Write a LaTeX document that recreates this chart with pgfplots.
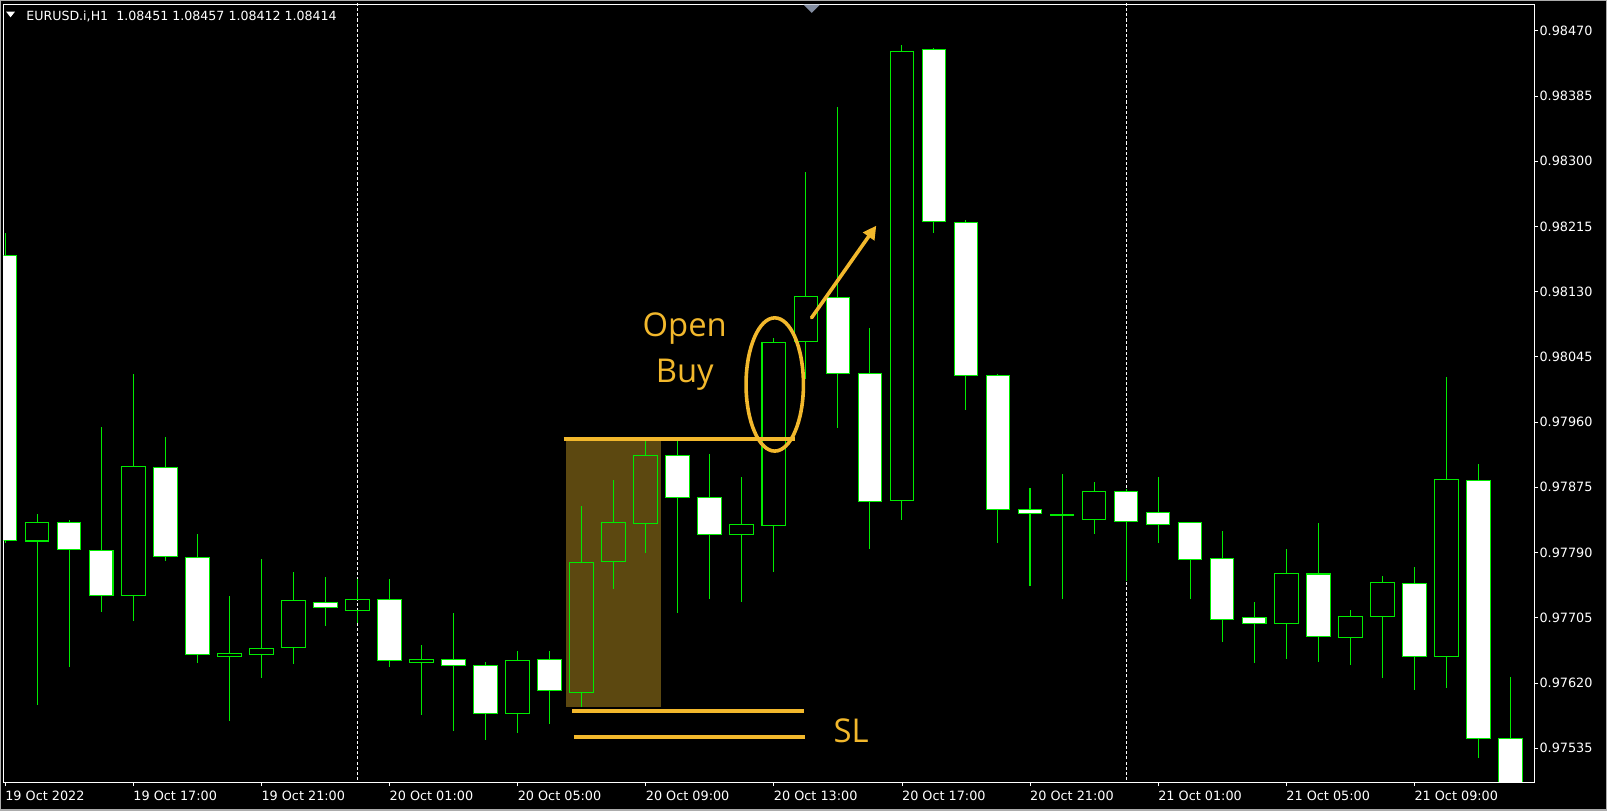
\documentclass[border=0pt]{standalone}
\usepackage{pgfplots}
\pgfplotsset{compat=1.18}
\usepackage{pgfplotstable}
\usepackage{fontspec}
\setmainfont{DejaVu Sans}
\newfontfamily\annfont{Open Sans}
\usetikzlibrary{arrows.meta}
\definecolor{cgreen}{RGB}{0,235,0}
\definecolor{gold}{RGB}{242,184,44}
\definecolor{shadec}{RGB}{92,72,16}
\definecolor{trig}{RGB}{130,140,160}

% k = hour index (0 = 19 Oct 13:00)
\pgfplotstableread{
k O H L C
1 0.97805 0.97840 0.97591 0.97829
4 0.97734 0.98023 0.97701 0.97902
7 0.97655 0.97733 0.97570 0.97658
8 0.97657 0.97782 0.97626 0.97665
9 0.97666 0.97765 0.97645 0.97727
11 0.97715 0.97755 0.97698 0.97729
13 0.97647 0.97669 0.97578 0.97651
16 0.97580 0.97661 0.97555 0.97649
18 0.97608 0.97850 0.97588 0.97777
19 0.97778 0.97885 0.97742 0.97829
20 0.97828 0.97938 0.97789 0.97916
23 0.97813 0.97888 0.97726 0.97826
24 0.97825 0.98069 0.97765 0.98064
25 0.98065 0.98286 0.98016 0.98123
28 0.97858 0.98451 0.97832 0.98443
33 0.97838 0.97892 0.97729 0.97840
34 0.97833 0.97882 0.97814 0.97870
40 0.97698 0.97795 0.97651 0.97762
42 0.97679 0.97715 0.97643 0.97706
43 0.97706 0.97759 0.97627 0.97751
45 0.97654 0.98019 0.97614 0.97885
}\bull

\pgfplotstableread{
k O H L C
0 0.98177 0.98206 0.97802 0.97806
2 0.97829 0.97833 0.97641 0.97794
3 0.97793 0.97954 0.97713 0.97734
5 0.97901 0.97941 0.97779 0.97785
6 0.97784 0.97814 0.97646 0.97657
10 0.97725 0.97758 0.97694 0.97718
12 0.97729 0.97755 0.97641 0.97649
14 0.97651 0.97711 0.97558 0.97643
15 0.97643 0.97647 0.97546 0.97580
17 0.97650 0.97661 0.97566 0.97610
21 0.97917 0.97936 0.97711 0.97862
22 0.97862 0.97918 0.97729 0.97813
26 0.98123 0.98370 0.97952 0.98023
27 0.98023 0.98083 0.97795 0.97857
29 0.98445 0.98447 0.98206 0.98222
30 0.98220 0.98223 0.97976 0.98021
31 0.98021 0.98023 0.97802 0.97846
32 0.97846 0.97874 0.97746 0.97841
35 0.97870 0.97873 0.97753 0.97830
36 0.97842 0.97888 0.97802 0.97826
37 0.97829 0.97829 0.97730 0.97781
38 0.97782 0.97818 0.97674 0.97703
39 0.97705 0.97725 0.97646 0.97698
41 0.97762 0.97829 0.97647 0.97681
44 0.97749 0.97771 0.97611 0.97654
46 0.97884 0.97905 0.97522 0.97548
47 0.97548 0.97628 0.97470 0.97480
}\bear

% candle marks: body half-height \candleB, wick ends \candleU / \candleL (pt, relative to body centre)
\pgfdeclareplotmark{candlefill}{%
  \pgfmathsetmacro\cbt{\candleB}\pgfmathsetmacro\cwt{\candleU}\pgfmathsetmacro\cwb{\candleL}%
  \pgfpathmoveto{\pgfqpoint{0pt}{\cbt pt}}\pgfpathlineto{\pgfqpoint{0pt}{\cwt pt}}%
  \pgfpathmoveto{\pgfqpoint{0pt}{-\cbt pt}}\pgfpathlineto{\pgfqpoint{0pt}{\cwb pt}}%
  \pgfusepathqstroke
  \pgfpathrectanglecorners{\pgfqpoint{-11.5pt}{-\cbt pt}}{\pgfqpoint{11.5pt}{\cbt pt}}%
  \pgfusepathqfillstroke}
\pgfdeclareplotmark{candlehollow}{%
  \pgfmathsetmacro\cbt{\candleB}\pgfmathsetmacro\cwt{\candleU}\pgfmathsetmacro\cwb{\candleL}%
  \pgfpathmoveto{\pgfqpoint{0pt}{\cbt pt}}\pgfpathlineto{\pgfqpoint{0pt}{\cwt pt}}%
  \pgfpathmoveto{\pgfqpoint{0pt}{-\cbt pt}}\pgfpathlineto{\pgfqpoint{0pt}{\cwb pt}}%
  \pgfpathrectanglecorners{\pgfqpoint{-11.5pt}{-\cbt pt}}{\pgfqpoint{11.5pt}{\cbt pt}}%
  \pgfusepathqstroke}

\pgfplotsset{candles/.style={
  only marks, scatter, point meta=y,
  visualization depends on={abs(\thisrow{C}-\thisrow{O})*37433 \as \candleB},
  visualization depends on={(\thisrow{H}-0.5*(\thisrow{O}+\thisrow{C}))*74866 \as \candleU},
  visualization depends on={(\thisrow{L}-0.5*(\thisrow{O}+\thisrow{C}))*74866 \as \candleL},
}}

\begin{document}
\begin{tikzpicture}
\fill[black] (0pt,0pt) rectangle (1568pt,-791pt);
\draw[gray!65, line width=1.2pt] (0.6pt,-0.6pt) rectangle (1567.4pt,-790.4pt);
\begin{axis}[
  at={(3.5pt,-3.9pt)}, anchor=north west,
  scale only axis, width=1493.5pt, height=759.1pt,
  xmin=-0.048, xmax=47.744, ymin=0.974909, ymax=0.985049,
  axis line style={white, line width=0.9pt},
  clip marker paths=true,
  xtick={0,4,...,44},
  xticklabels={19 Oct 2022,19 Oct 17:00,19 Oct 21:00,20 Oct 01:00,20 Oct 05:00,20 Oct 09:00,20 Oct 13:00,20 Oct 17:00,20 Oct 21:00,21 Oct 01:00,21 Oct 05:00,21 Oct 09:00},
  ytick={0.97535,0.97620,0.97705,0.97790,0.97875,0.97960,0.98045,0.98130,0.98215,0.98300,0.98385,0.98470},
  yticklabels={0.97535,0.97620,0.97705,0.97790,0.97875,0.97960,0.98045,0.98130,0.98215,0.98300,0.98385,0.98470},
  xtick pos=bottom, ytick pos=right, yticklabel pos=right,
  tick align=outside, major tick length=4pt,
  tick style={white, line width=0.7pt},
  xticklabel style={anchor=base west, inner sep=0pt, text=white, font=\fontsize{12.5}{14}\selectfont, yshift=-13.6pt},
  yticklabel style={anchor=west, inner sep=0pt, text=white, font=\fontsize{12.5}{14}\selectfont, xshift=1pt},
]
% highlighted zone
\addplot[fill=shadec, draw=none] coordinates {(17.5,0.97588) (20.48,0.97588) (20.48,0.97938) (17.5,0.97938)} -- cycle;
% day separators (00:00)
\addplot[white, line width=0.8pt, dash pattern=on 3pt off 2pt] coordinates {(11,0.9740) (11,0.9860)};
\addplot[white, line width=0.8pt, dash pattern=on 3pt off 2pt] coordinates {(35,0.9740) (35,0.9860)};
% candles
\addplot[candles, mark=candlehollow, scatter/use mapped color={draw=cgreen, fill=black}, mark options={line width=1pt}] table[x=k, y expr={0.5*(\thisrow{O}+\thisrow{C})}] {\bull};
\addplot[candles, mark=candlefill, scatter/use mapped color={draw=cgreen, fill=white}, mark options={line width=1pt}] table[x=k, y expr={0.5*(\thisrow{O}+\thisrow{C})}] {\bear};
% annotations
\addplot[gold, line width=4pt] coordinates {(17.44,0.97938) (24.67,0.97938)};
\addplot[gold, line width=4pt] coordinates {(17.70,0.97584) (24.93,0.97584)};
\addplot[gold, line width=4pt] coordinates {(17.76,0.97550) (24.96,0.97550)};
\addplot[gold, line width=3.5pt, line cap=round, -{Triangle[length=13pt, width=13pt]}] coordinates {(25.18,0.98096) (27.2,0.98216)};
\draw[gold, line width=3.5pt] (axis cs:24.03,0.98009) ellipse [x radius=28pt, y radius=65pt];
\node[anchor=base, inner sep=0pt, text=gold, font=\annfont\fontsize{32}{38}\selectfont] at (axis cs:21.22,0.98071) {Open};
\node[anchor=base, inner sep=0pt, text=gold, font=\annfont\fontsize{32}{38}\selectfont] at (axis cs:21.22,0.98012) {Buy};
\node[anchor=base west, inner sep=0pt, text=gold, font=\annfont\fontsize{32}{38}\selectfont] at (axis cs:25.86,0.97542) {SL};
\end{axis}
\fill[white] (6pt,-11.4pt) -- (14.6pt,-11.4pt) -- (10.3pt,-16.9pt) -- cycle;
\node[anchor=base west, inner sep=0pt, text=white, font=\fontsize{12.3}{14}\selectfont] at (25.5pt,-20pt) {EURUSD.i,H1\ \ 1.08451 1.08457 1.08412 1.08414};
\fill[trig] (784pt,-4.5pt) -- (800pt,-4.5pt) -- (792pt,-12.5pt) -- cycle;
\end{tikzpicture}
\end{document}
